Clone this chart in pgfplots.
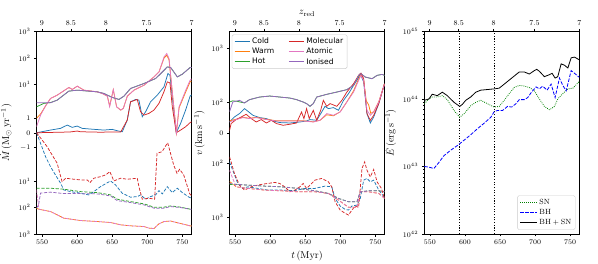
\documentclass[border=0pt]{standalone}
\usepackage{pgfplots}
\pgfplotsset{compat=1.18}
\usepackage{fontspec}
\newfontfamily\legendfont{DejaVu Sans}
\definecolor{cC0}{HTML}{1F77B4}
\definecolor{cC1}{HTML}{FF7F0E}
\definecolor{cC2}{HTML}{2CA02C}
\definecolor{cC3}{HTML}{D62728}
\definecolor{cC4}{HTML}{9467BD}
\definecolor{cC6}{HTML}{E377C2}
\pgfplotsset{
  panel/.style={scale only axis, width=155pt, height=202.5pt, xmin=542, xmax=763,
    xtick={550,600,650,700,750}, xtick pos=bottom, ytick pos=left, tick align=outside,
    major tick length=2.5pt, minor tick length=1.5pt,
    axis line style={line width=0.5pt}, every tick/.style={black, line width=0.5pt},
    ticklabel style={font=\fontsize{7.5}{8}\selectfont},
    label style={font=\fontsize{10}{12}\selectfont},
    every axis plot/.append style={line width=0.75pt, mark=none}},
  toppanel/.style={scale only axis, width=155pt, height=202.5pt, xmin=542, xmax=763,
    ymin=0, ymax=1, axis x line*=top, hide y axis,
    xtick={549.5,591,641,699,763}, xticklabels={9,8.5,8,7.5,7},
    tick align=outside, major tick length=2.5pt,
    axis line style={line width=0.5pt}, every tick/.style={black, line width=0.5pt},
    ticklabel style={font=\fontsize{7.5}{8}\selectfont},
    label style={font=\fontsize{10}{12}\selectfont}},
  dsh/.style={dash pattern=on 3.2pt off 1.6pt},
}
\begin{document}
\begin{tikzpicture}
\useasboundingbox (0,0) rectangle (598pt,263pt);
% ---------------- LEFT ----------------
\begin{axis}[panel, at={(36.5pt,29pt)}, anchor=south west,
  ymin=-101.5, ymax=101.5,
  ytick={-101.5,-74.7,-48.3,-15,0,15,48.3,74.7,101.5},
  yticklabels={$10^{3}$,$10^{2}$,$10^{1}$,$-1$,$0$,$1$,$10^{1}$,$10^{2}$,$10^{3}$},
  ylabel={$\dot{M}\,(\mathrm{M_\odot\,yr^{-1}})$}]
% outflows (solid)
\addplot[cC0] coordinates {(542,0)(562,2.7)(576.3,4.4)(585.8,7.7)(592.9,5.4)(600,6.7)(607.2,4.4)(619,3.7)(638,2.7)(650,3.4)(657.1,2)(664.3,1)(671.4,12.7)(676.1,31)(683.3,33.4)(688,32.7)(692.8,16)(697.5,21)(704.6,31)(714.2,37.7)(723.7,46)(729.4,59.4)(732.3,57.7)(735.6,36)(741.3,0)(747.5,9.4)(754.6,22.7)(761,36.7)(763,38)};
\addplot[cC1] coordinates {(542,14.4)(548,19)(555,27)(562,34.4)(571.5,37.7)(588.2,45.4)(593,43.4)(600.1,46.7)(609.6,42.7)(628.7,41)(635.8,39.4)(643,36.7)(646.3,27)(651.5,43)(656.2,26)(662,22.7)(665.8,24.4)(671.5,36.7)(681,42.7)(695.3,47.7)(709.6,56)(716.7,61)(723.9,75)(727.7,77.7)(731,73)(735.8,39.4)(741.5,0)(745.3,25)(754.8,41)(761,51)(763,52)};
\addplot[cC2] coordinates {(542,26)(552.4,29.4)(562,30.3)(571.5,32.7)(588,41.7)(600,42.7)(628.7,41)(638,39.4)(650,35.4)(659.6,33.4)(666.7,36.7)(676.1,44.4)(695.3,49.4)(712,54.4)(721.4,61)(728.5,66)(733.3,65.4)(742.8,56)(749.9,58.7)(761,65.4)(763,65.5)};
\addplot[cC3] coordinates {(542,0)(580,0.6)(590,0.8)(600,1.7)(604.8,1)(630,0.6)(662,0.7)(671.4,12.7)(676.1,31)(685.6,33.4)(690.4,21)(695.2,17.7)(702.3,19.4)(709.4,22.7)(716.6,29.4)(723.7,41)(728.5,51)(732.3,50)(735.6,26)(741.3,0)(747.5,2.7)(754.6,6)(760.8,10)(763,11)};
\addplot[cC6] coordinates {(542,6)(548,18)(555,27)(562,34.4)(571.5,37.7)(588.2,45.4)(593,43.4)(600.1,46.7)(609.6,42.7)(628.7,41)(635.8,39.4)(643,36.7)(646.3,26)(651.5,43.4)(656.2,26)(662,22.7)(665.8,24.4)(671.5,36.7)(681,42.7)(695.3,47.7)(709.6,56)(716.7,61)(723.9,76)(727.7,79.4)(731,74.4)(735.8,39.4)(741.5,0)(745.3,26)(754.8,42.7)(761,52.7)(763,54)};
\addplot[cC4] coordinates {(542,30)(562,30)(571.5,32.7)(588,41.7)(600,42.7)(628.7,41)(638,39.4)(650,35.4)(659.6,33.4)(666.7,36.7)(676.1,44.4)(695.3,49.4)(712,54.4)(721.4,61)(728.5,66)(733.3,65.4)(742.8,56)(749.9,58.7)(761,65.4)(763,65.5)};
% inflows (dashed)
\addplot[cC0,dsh] coordinates {(542,0)(547.8,-10.6)(554.9,-24)(562,-34)(569,-42.3)(576.3,-50.6)(581,-57.3)(590.4,-59)(600,-60)(609.5,-61.3)(616.6,-62.3)(623.8,-59)(633.3,-54)(647.6,-48.3)(654.7,-52.3)(664.2,-60.6)(676.1,-64.6)(685.7,-64)(690.4,-62.3)(697.6,-66.6)(704.7,-64)(711.9,-62.3)(716.6,-58)(721.4,-61.3)(728.5,-54)(735.6,-60)(742.8,-55.6)(749.9,-60)(759.5,-64.6)(763,-65.5)};
\addplot[cC1,dsh] coordinates {(542,-75.7)(545.5,-76.7)(562,-79)(581,-85.6)(604.8,-88)(628.7,-89)(647.6,-90)(662,-92.3)(676.1,-93.3)(695.2,-94)(702.3,-95.6)(709.5,-96)(716.6,-91.3)(723.8,-89)(733.3,-88.5)(745.2,-90.6)(761,-93.3)(763,-93.5)};
\addplot[cC2,dsh] coordinates {(542,-55.6)(562,-55.6)(581,-56.6)(604.8,-59)(628.7,-60)(647.6,-62.3)(657.1,-66.6)(676.1,-69)(695.2,-71.3)(709.5,-74.6)(723.8,-74.6)(733.3,-73.3)(747.5,-74.6)(761,-76.6)(763,-76.8)};
\addplot[cC3,dsh] coordinates {(542,0)(550.1,-7.3)(557.2,-14)(564.3,-22.3)(571.5,-30.6)(575.2,-40.6)(578.5,-49)(583.5,-45.6)(595.3,-46.6)(604.8,-47.3)(614.3,-47.3)(618.2,-50)(623.8,-45.6)(633.3,-44)(640.5,-42.3)(646.6,-39)(652.3,-48.3)(661.9,-45.6)(671.4,-46.6)(685.7,-45.6)(688,-54)(692.8,-66.6)(702.3,-65.6)(710.4,-66.6)(713.8,-20.6)(721,-19)(729,-10)(731.8,-17.3)(737.6,-32.3)(742.3,-40.6)(746.1,-36.6)(751.9,-42.3)(760.5,-61.3)(763,-63)};
\addplot[cC6,dsh] coordinates {(542,-57)(545.5,-76.7)(562,-79)(581,-85.6)(604.8,-88)(628.7,-89)(647.6,-90)(662,-92.3)(676.1,-93.3)(695.2,-94)(702.3,-95.6)(709.5,-96)(716.6,-91.3)(723.8,-89)(733.3,-88.5)(745.2,-90.6)(761,-93.3)(763,-93.5)};
\addplot[cC4,dsh] coordinates {(542,-75.7)(545,-72)(547.8,-60.5)(562,-59.5)(581,-61)(604.8,-61)(628.7,-61.3)(647.6,-63.3)(657.1,-68)(676.1,-70)(695.2,-72.3)(709.5,-75.6)(723.8,-75.6)(733.3,-74)(747.5,-75)(761,-76.6)(763,-76.8)};
\end{axis}
\begin{axis}[toppanel, at={(36.5pt,29pt)}, anchor=south west]
\end{axis}
% ---------------- MIDDLE ----------------
\begin{axis}[panel, at={(229.5pt,29pt)}, anchor=south west,
  ymin=-101.5, ymax=101.5,
  ytick={-84.8,-30.8,0,30.8,84.8},
  yticklabels={$10^{3}$,$10^{2}$,$0$,$10^{2}$,$10^{3}$},
  ylabel={$v\,(\mathrm{km\,s^{-1}})$}, xlabel={$t\,(\mathrm{Myr})$},
  legend columns=2, legend cell align=left,
  legend style={at={(0.015,0.985)}, anchor=north west,
    font=\legendfont\fontsize{7.6}{9}\selectfont,
    draw=black!20, rounded corners=1.5pt, fill=white, fill opacity=0.8, text opacity=1,
    inner xsep=2pt, inner ysep=1pt, row sep=-1pt,
    /tikz/every even column/.append style={column sep=12pt}},
  legend image code/.code={\draw[#1, line width=1.1pt] (0pt,0pt) -- (15pt,0pt);}]
\addplot[cC0,forget plot] coordinates {(542,10.8)(549,15.8)(556.2,19.2)(563.4,24.2)(569.6,20.8)(575.4,17.5)(585,15.2)(594.5,14.2)(604.1,11.8)(613.6,10.2)(628,9.8)(642.4,10.8)(651.9,11.8)(656.7,13.2)(666.3,12.5)(673.5,20.8)(678.2,26.5)(683,24.2)(690.2,25.2)(697.4,22.5)(704.6,32.5)(711.7,39.2)(718.9,47.5)(725.1,54.2)(728.5,59.2)(733.3,50.8)(738,19.2)(742.8,9.8)(747.6,15.8)(754.8,29.2)(763,49.2)};
\addplot[cC1,forget plot] coordinates {(542,12)(551.4,13.5)(561,15.5)(570.6,14.5)(580.1,15.5)(594.5,13.5)(608.9,12)(628,12)(647.1,12)(661.5,11)(671.1,12.5)(680.6,18)(690.2,17)(699.8,21)(709.3,31)(718.9,42)(726.1,54)(729.4,58.5)(733.3,53)(737,32)(740.4,28)(743.4,19.5)(747.6,21)(754.8,31)(763,49)};
\addplot[cC2,forget plot] coordinates {(542,30.8)(546.7,32)(553,31.5)(559,30.5)(563.4,30)(570.6,33.2)(585,35.8)(599.3,36.8)(613.6,35.8)(628,34.8)(637.6,33.2)(647.1,30.8)(651.9,29.2)(656.7,26.5)(661.5,29.2)(666.3,35.8)(680.6,38.5)(695,40.8)(709.3,43.2)(718.9,47.5)(726.1,57.5)(729.4,59.2)(735.7,55.8)(745.2,54.2)(752.4,57.5)(759.6,58.5)(763,57.5)};
\addplot[cC3,forget plot] coordinates {(542,2)(544.3,9.2)(551.4,13.2)(558.6,15.8)(565.8,18.5)(573,14.2)(580.1,10.8)(587.3,13.2)(594.5,9.8)(601.7,12.5)(608.9,9.2)(618.4,7.5)(628,8.5)(637.6,9.8)(644.7,20.8)(648.1,14.2)(651.9,24.2)(655.7,14.2)(661.5,22.5)(666.3,12.5)(672,22.5)(675.8,32.5)(680.6,26.5)(685.4,29.2)(695,26.5)(702.2,32.5)(709.3,40.8)(718.9,49.2)(726.1,57.5)(729.4,59.8)(733.3,54.2)(738,19.2)(742.8,12.5)(747.6,17.5)(754.8,29.2)(763,49.2)};
\addplot[cC6,forget plot] coordinates {(542,10.8)(551.4,13.2)(561,15.2)(570.6,14.2)(580.1,15.2)(594.5,13.2)(608.9,11.8)(628,11.8)(647.1,11.8)(661.5,10.8)(671.1,12.5)(680.6,19.2)(690.2,17.5)(699.8,20.8)(709.3,30.8)(718.9,40.8)(726.1,52.5)(729.4,57.5)(733.3,52.5)(738,22.5)(742.8,17.5)(747.6,20.8)(754.8,30.8)(763,48.5)};
\addplot[cC4,forget plot] coordinates {(542,21)(546.7,30.8)(556.2,32.5)(563.4,29.8)(570.6,33.2)(585,35.8)(599.3,36.8)(613.6,35.8)(628,34.8)(637.6,33.2)(647.1,30.8)(651.9,29.2)(656.7,26.5)(661.5,29.2)(666.3,35.8)(680.6,38.5)(695,40.8)(709.3,43.2)(718.9,47.5)(726.1,57.5)(729.4,59.2)(735.7,55.8)(745.2,54.2)(752.4,57.5)(759.6,58.5)(763,57.5)};
% inflows
\addplot[cC0,dsh,forget plot] coordinates {(542,-29.2)(546.6,-37.5)(553.8,-50.8)(561,-55.8)(568.2,-54.2)(582.5,-55.8)(596.9,-57.5)(616,-57.5)(635.2,-58)(649.5,-55.8)(663.9,-55.8)(678.2,-53.5)(687.8,-54.2)(692.6,-65.8)(699.8,-73.5)(707,-76.8)(711.7,-77.5)(716.5,-73.5)(723.7,-72.5)(728.5,-65.8)(733.3,-47.5)(738,-45.8)(742.8,-49.2)(747.6,-47.5)(754.8,-57.5)(763,-64.8)};
\addplot[cC1,dsh,forget plot] coordinates {(542,-49)(546.6,-51)(551.4,-54.2)(568.2,-55.8)(592.1,-57.5)(616,-58.2)(640,-59.2)(663.9,-59.2)(683,-60.8)(697.4,-67.5)(711.7,-74.8)(723.7,-74.8)(728.5,-59.2)(740.4,-59.2)(754.8,-60.8)(763,-65.8)};
\addplot[cC2,dsh,forget plot] coordinates {(542,-52)(549,-51.8)(568.2,-52.5)(592.1,-53.5)(616,-54.2)(640,-55.8)(663.9,-58.2)(683,-60.8)(697.4,-65.8)(711.7,-69.2)(723.7,-69.2)(728.5,-59.2)(740.4,-58.2)(754.8,-58.2)(763,-59.2)};
\addplot[cC3,dsh,forget plot] coordinates {(542,-24.2)(544.3,-29.2)(549,-40.8)(556.2,-52.5)(563.4,-57.5)(568.2,-55.8)(575.4,-53.5)(582.5,-52.5)(589.7,-51.5)(596.9,-50.8)(606.5,-49.8)(613.6,-50.8)(620.8,-54.2)(628,-59.2)(635.2,-57.5)(642.4,-54.2)(647.1,-50.8)(651.9,-55.8)(656.7,-52.5)(663.9,-47.5)(673.5,-45.8)(683,-49.2)(687.8,-54.2)(692.6,-69.2)(699.8,-77.5)(707,-80.8)(711.7,-82.5)(716.5,-77.5)(721.3,-73.5)(726.1,-74.8)(730.9,-35.8)(734.7,-29.2)(738,-37.5)(742.8,-44.2)(747.6,-36.8)(752.4,-49.2)(758.6,-55.8)(763,-65.8)};
\addplot[cC6,dsh,forget plot] coordinates {(542,-37.5)(546.6,-45.8)(551.4,-54.2)(568.2,-55.8)(592.1,-57.5)(616,-58.2)(640,-59.2)(663.9,-59.2)(683,-60.8)(697.4,-67.5)(711.7,-74.8)(723.7,-74.8)(728.5,-59.2)(740.4,-59.2)(754.8,-60.8)(763,-65.8)};
\addplot[cC4,dsh,forget plot] coordinates {(542,-50.8)(549,-51.5)(568.2,-52.5)(592.1,-53.5)(616,-54.2)(640,-55.8)(663.9,-58.2)(683,-60.8)(697.4,-65.8)(711.7,-69.2)(723.7,-69.2)(728.5,-59.2)(740.4,-58.2)(754.8,-58.2)(763,-59.2)};
\addlegendimage{cC0}\addlegendentry{Cold}
\addlegendimage{cC3}\addlegendentry{Molecular}
\addlegendimage{cC1}\addlegendentry{Warm}
\addlegendimage{cC6}\addlegendentry{Atomic}
\addlegendimage{cC2}\addlegendentry{Hot}
\addlegendimage{cC4}\addlegendentry{Ionised}
\end{axis}
\begin{axis}[toppanel, at={(229.5pt,29pt)}, anchor=south west, xlabel={$z_{\mathrm{red}}$},
  xlabel style={yshift=-3pt}]
\end{axis}
% ---------------- RIGHT ----------------
\begin{axis}[panel, at={(424.3pt,29pt)}, anchor=south west,
  ymode=log, ymin=1e42, ymax=1e45,
  ytick={1e42,1e43,1e44,1e45},
  ylabel={$\dot{E}\,(\mathrm{erg\,s^{-1}})$},
  legend cell align=left,
  legend style={at={(0.975,0.02)}, anchor=south east,
    font=\fontsize{7.5}{9}\selectfont,
    draw=black!20, rounded corners=1.5pt, fill=white, fill opacity=0.8, text opacity=1,
    inner xsep=2pt, inner ysep=1.5pt, row sep=-0.5pt},
  legend image code/.code={\draw[#1] (0pt,0pt) -- (17pt,0pt);}]
\addplot[black, line width=0.9pt, dash pattern=on 1.1pt off 1.6pt, forget plot] coordinates {(592.5,1e42)(592.5,1e45)};
\addplot[black, line width=0.9pt, dash pattern=on 1.1pt off 1.6pt, forget plot] coordinates {(642,1e42)(642,1e45)};
\addplot[green!50!black, dash pattern=on 0.8pt off 1.2pt, line width=0.8pt] coordinates {(542,8.51e43)(548.6,1.0e44)(553.3,1.07e44)(560.5,1.07e44)(567.7,1.12e44)(574.8,9.77e43)(584.4,6.76e43)(592.5,5.37e43)(598.7,6.03e43)(608.2,7.94e43)(615.4,8.91e43)(622.5,9.55e43)(632.1,8.51e43)(641.6,7.59e43)(648.8,7.76e43)(656,9.55e43)(663.1,1.2e44)(670.3,1.48e44)(677.4,1.585e44)(684.6,1.55e44)(691.8,1.48e44)(698.9,1.32e44)(706.1,1.0e44)(713.2,7.76e43)(720.4,6.92e43)(727.6,7.76e43)(732.3,1.0e44)(739.5,1.2e44)(746.7,1.41e44)(753.8,1.445e44)(763,1.82e44)};
\addlegendentry{$\mathrm{SN}$}
\addplot[blue, dash pattern=on 3.5pt off 1.5pt, line width=0.8pt] coordinates {(542,1.0e43)(548.6,9.77e42)(555.7,9.33e42)(562.9,1.15e43)(570,1.445e43)(579.6,1.74e43)(589.1,2.04e43)(598.7,2.45e43)(608.2,2.95e43)(617.8,3.63e43)(627.3,4.37e43)(636.9,5.37e43)(641.6,6.46e43)(646.4,6.76e43)(653.6,6.76e43)(660.7,7.76e43)(666.5,7.59e43)(672.7,8.51e43)(677.4,9.77e43)(684.6,9.77e43)(689.4,1.047e44)(694.1,1.23e44)(701.3,1.51e44)(706.1,1.41e44)(710.8,1.55e44)(717.1,1.35e44)(722.8,1.66e44)(728.5,1.047e44)(734.7,2.04e44)(739.5,1.585e44)(744.3,1.32e44)(751.4,2.63e44)(756.2,2.4e44)(763,2.09e44)};
\addlegendentry{$\mathrm{BH}$}
\addplot[black, line width=0.8pt] coordinates {(542,9.55e43)(548.6,1.0e44)(553.3,1.175e44)(560.5,1.12e44)(567.7,1.26e44)(574.8,1.12e44)(584.4,8.91e43)(592.5,7.76e43)(596.3,8.32e43)(601.1,9.55e43)(608.2,1.07e44)(615.4,1.26e44)(622.5,1.35e44)(632.1,1.38e44)(641.6,1.41e44)(648.8,1.445e44)(656,1.66e44)(663.1,1.905e44)(670.3,2.19e44)(677.4,2.51e44)(684.6,2.51e44)(691.8,2.34e44)(698.9,2.63e44)(702.3,2.75e44)(706.1,2.57e44)(713.2,2.14e44)(720.4,2.29e44)(724.2,2.4e44)(728.5,2.04e44)(732.3,2.14e44)(737.1,3.31e44)(741.9,3.16e44)(746.7,2.88e44)(751.4,4.07e44)(756.2,4.17e44)(763,3.8e44)};
\addlegendentry{$\mathrm{BH+SN}$}
\end{axis}
\begin{axis}[toppanel, at={(424.3pt,29pt)}, anchor=south west]
\end{axis}
\end{tikzpicture}
\end{document}
